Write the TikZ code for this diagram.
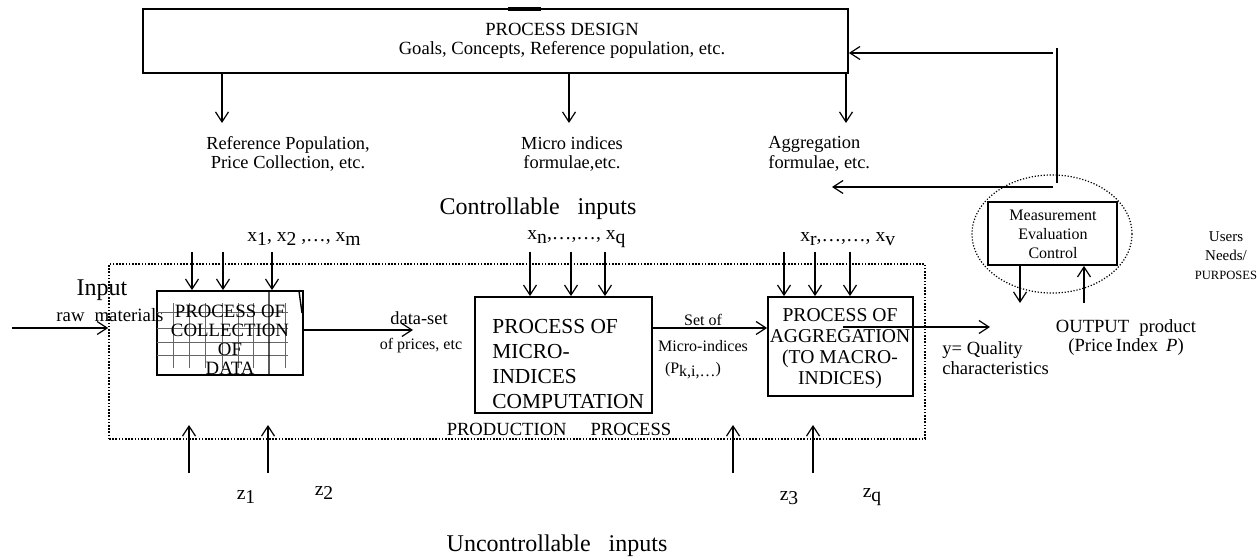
\documentclass[tikz,border=0pt]{standalone}
\usepackage{fontspec}
\setmainfont{Liberation Serif}
\usetikzlibrary{arrows.meta,positioning,shapes.geometric}

\tikzset{
  >={Straight Barb[length=5pt,width=6.5pt]},
  flow/.style={->, line width=0.6pt},
  procbox/.style={draw, line width=0.9pt, inner sep=0pt},
  txt/.style={inner sep=0pt, align=center, font=\fontsize{9.2}{9.2}\selectfont},
  smalltxt/.style={txt, font=\fontsize{8}{9.5}\selectfont},
  idxtxt/.style={txt, font=\fontsize{9.8}{10}\selectfont},
  bigtxt/.style={txt, font=\fontsize{12}{14}\selectfont},
}
\newcommand{\lowidx}[1]{\raisebox{-0.45ex}{#1}}

\begin{document}
\begin{tikzpicture}[x=0.5pt, y=-0.5pt]
    \useasboundingbox (0,0) rectangle (1257,560);

    % Process design
    \node[procbox, minimum width=352.5pt, minimum height=32pt] (design) at (495.5,41) {};
    \draw[line width=1.6pt] (508,9) -- (541,9);
    \node[txt, font=\fontsize{9.3}{9.5}\selectfont] (designtxt) at (562,40.5)
        {PROCESS DESIGN\\Goals, Concepts, Reference population, etc.};

    % Design outputs
    \coordinate (refpop) at (222,123);
    \coordinate (microf) at (569,123);
    \coordinate (aggf) at (846,123);
    \draw[flow] (design.south -| refpop) -- (refpop);
    \draw[flow] (design.south -| microf) -- (microf);
    \draw[flow] (design.south -| aggf) -- (aggf);
    \node[txt] (reflab) at (288,154) {Reference Population,\\Price Collection, etc.};
    \node[txt] (microlab) at (572,154) {Micro indices\\formulae,etc.};
    \node[txt, align=left, anchor=west, font=\fontsize{9.2}{10}\selectfont] (agglab) at (768,154)
        {Aggregation\\formulae, etc.};

    % Feedback from evaluation
    \coordinate (fbtop) at (1057,48);
    \coordinate (fbbot) at (1057,183);
    \draw[line width=0.6pt] (fbtop) -- (fbbot);
    \coordinate (fbin) at (1053,53);
    \draw[flow] (fbin) -- (design.east |- fbin);
    \coordinate (fbout) at (1053,187);
    \coordinate (fbend) at (832,187);
    \draw[flow] (fbout) -- (fbend);

    % Controllable inputs
    \node[bigtxt] (ctrl) at (538,209) {Controllable\hspace{9pt}inputs};

    % Production process frame
    \node[draw, line width=0.8pt, dash pattern=on 0.8pt off 0.8pt,
          minimum width=408pt, minimum height=87.5pt, inner sep=0pt] (prod) at (517,351.5) {};
    \node[txt, font=\fontsize{9.3}{9.5}\selectfont] (prodlab) at (559,429) {PRODUCTION\hspace{12pt}PROCESS};

    % Input
    \coordinate (rawin) at (12,328);
    \draw[flow] (rawin) -- (prod.west |- rawin);
    \node[bigtxt] (inputlab) at (102,290) {Input};
    \node[txt, font=\fontsize{9.4}{9.5}\selectfont] (rawlab) at (110,315) {raw\hspace{5pt}materials};

    % Collection of data
    \node[procbox, minimum width=73pt, minimum height=42pt] (coll) at (230,333) {};
    \draw[gray!80!black, line width=0.5pt]
        (157,313) -- (288,313) (157,329) -- (288,329) (157,343) -- (288,343) (157,356) -- (288,356)
        (173,303) -- (173,368) (189,303) -- (189,368) (205,303) -- (205,368) (222,303) -- (222,368)
        (238,303) -- (238,368) (253,303) -- (253,368) (285,303) -- (285,368);
    \draw[line width=0.7pt] (269,291) -- (269,375) (299,291) -- (302,313);
    \node[txt, font=\fontsize{9.4}{9.5}\selectfont] (colltxt) at (230,339.5) {PROCESS OF\\COLLECTION\\OF\\DATA};
    \coordinate (xa) at (192,252);
    \coordinate (xb) at (223,252);
    \coordinate (xc) at (272,252);
    \draw[flow] (xa) -- (xa |- coll.north);
    \draw[flow] (xb) -- (xb |- coll.north);
    \draw[flow] (xc) -- (xc |- coll.north);
    \node[idxtxt, anchor=west] (xlab1) at (247,239) {x\lowidx{1}, x\lowidx{2} ,…, x\lowidx{m}};

    % Data-set
    \coordinate (dsend) at (413,330);
    \draw[flow] (coll.east |- dsend) -- (dsend);
    \node[txt] (dslab) at (419,318) {data-set};
    \node[smalltxt] (pricelab) at (421,346) {of prices, etc};

    % Micro-indices computation
    \node[procbox, minimum width=88.5pt, minimum height=58pt] (micro) at (563.5,355) {};
    \node[txt, align=left, anchor=west, font=\fontsize{10.7}{12.5}\selectfont] (microtxt) at (492,364.5)
        {PROCESS OF\\MICRO-\\INDICES\\COMPUTATION};
    \coordinate (xd) at (530,252);
    \coordinate (xe) at (571,252);
    \coordinate (xf) at (605,252);
    \draw[flow] (xd) -- (xd |- micro.north);
    \draw[flow] (xe) -- (xe |- micro.north);
    \draw[flow] (xf) -- (xf |- micro.north);
    \node[idxtxt, anchor=west] (xlab2) at (527,239) {x\lowidx{n},…,…, x\lowidx{q}};

    % Set of micro-indices
    \node[procbox, minimum width=72.5pt, minimum height=49.5pt] (agg) at (840.5,346.5) {};
    \coordinate (setof) at (652,328);
    \draw[flow] (setof) -- (agg.west |- setof);
    \node[smalltxt] (setlab) at (703,320) {Set of};
    \node[smalltxt] (mindlab) at (703,346) {Micro-indices};
    \node[smalltxt] (plab) at (693,371) {(P\lowidx{k,i,…})};

    % Aggregation
    \node[txt, font=\fontsize{9.8}{10.5}\selectfont] (aggtxt) at (840,348.5)
        {PROCESS OF\\AGGREGATION\\(TO MACRO-\\INDICES)};
    \coordinate (xg) at (784,252);
    \coordinate (xh) at (815,252);
    \coordinate (xi) at (850,252);
    \draw[flow] (xg) -- (xg |- agg.north);
    \draw[flow] (xh) -- (xh |- agg.north);
    \draw[flow] (xi) -- (xi |- agg.north);
    \node[idxtxt, anchor=west] (xlab3) at (800,239) {x\lowidx{r},…,…, x\lowidx{v}};

    % Output
    \coordinate (outstart) at (843,327);
    \coordinate (outend) at (990,327);
    \draw[flow] (outstart) -- (outend);
    \node[txt, align=left, anchor=west, font=\fontsize{9.3}{10}\selectfont] (qlab) at (942,358)
        {y= Quality\\characteristics};

    % Measurement, evaluation, control
    \node[draw, ellipse, line width=0.6pt, dash pattern=on 0.6pt off 0.9pt,
          minimum width=80pt, minimum height=59pt, inner sep=0pt] (ring) at (1052,234) {};
    \node[procbox, minimum width=64.5pt, minimum height=31.5pt] (meas) at (1052.5,233.5) {};
    \node[txt, font=\fontsize{8}{9.5}\selectfont] (meastxt) at (1053,234) {Measurement\\Evaluation\\Control};
    \coordinate (mdown) at (1020,303);
    \coordinate (mup) at (1084,303);
    \draw[flow] (meas.south -| mdown) -- (mdown);
    \draw[flow] (mup) -- (meas.south -| mup);
    \node[txt, font=\fontsize{9.3}{9.5}\selectfont] (outlab) at (1126,337.5)
        {OUTPUT\hspace{5pt}product\\(Price\,Index\hspace{4pt}\textit{P})};
    \node[txt, font=\fontsize{7.5}{9.5}\selectfont] (userlab) at (1226,256)
        {Users\\Needs/\\{\fontsize{6.3}{9.5}\selectfont PURPOSES}};

    % Uncontrollable inputs
    \coordinate (za) at (189,473);
    \coordinate (zb) at (268,473);
    \coordinate (zc) at (733,473);
    \coordinate (zd) at (813,473);
    \coordinate (zat) at (189,425);
    \coordinate (zbt) at (268,425);
    \coordinate (zct) at (733,425);
    \coordinate (zdt) at (813,425);
    \draw[flow] (za) -- (zat);
    \draw[flow] (zb) -- (zbt);
    \draw[flow] (zc) -- (zct);
    \draw[flow] (zd) -- (zdt);
    \node[idxtxt] (z1lab) at (246,497) {z\lowidx{1}};
    \node[idxtxt] (z2lab) at (324,493) {z\lowidx{2}};
    \node[idxtxt] (z3lab) at (789,498) {z\lowidx{3}};
    \node[idxtxt] (zqlab) at (872,497) {z\lowidx{q}};
    \node[bigtxt] (unctrl) at (557,546) {Uncontrollable\hspace{9pt}inputs};
\end{tikzpicture}
\end{document}
